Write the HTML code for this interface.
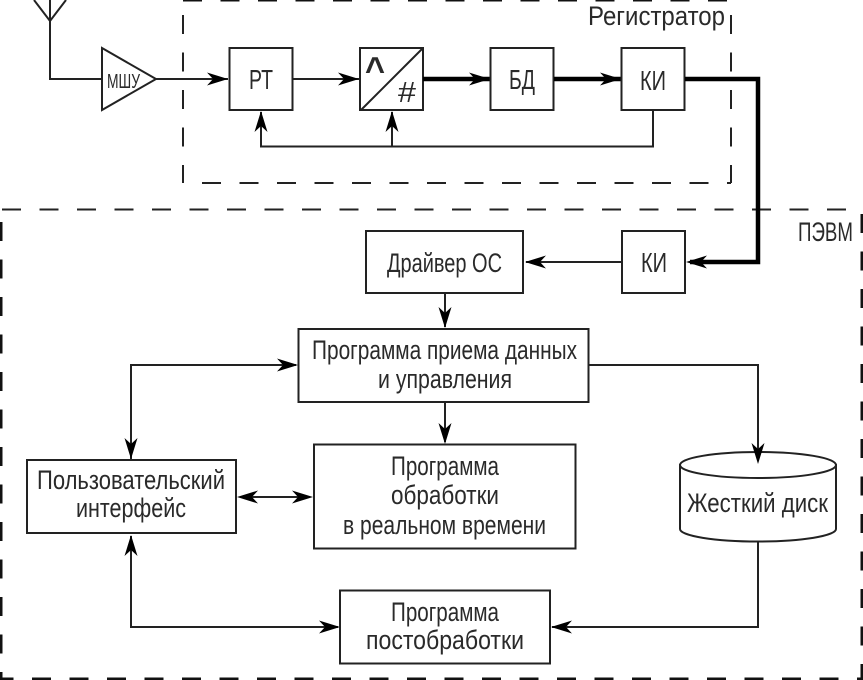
<!DOCTYPE html>
<html><head><meta charset="utf-8"><style>
html,body{margin:0;padding:0;background:#fff}
svg{display:block}
text{font-family:"Liberation Sans","DejaVu Sans",sans-serif;fill:#2a2a2a;font-size:27px;text-anchor:start}
.b{fill:#fff;stroke:#222;stroke-width:2}
.l{fill:none;stroke:#222;stroke-width:2}
.t{fill:none;stroke:#000;stroke-width:4.5}
.d{fill:none;stroke:#222;stroke-width:2;stroke-dasharray:19 18.5}
.dd{fill:none;stroke:#111;stroke-width:3;stroke-dasharray:19 18.5}
</style></head><body>
<svg width="863" height="680" viewBox="0 0 863 680" xmlns="http://www.w3.org/2000/svg">
<defs><path id="a" d="M0 0L-21 -6.500L-15 0L-21 6.500Z" fill="#000"/></defs>

<path class="dd" d="M183 0H731"/>
<path class="d" d="M183 15V183"/>
<path class="d" d="M731 15V183"/>
<path class="d" d="M202 183H731"/>
<path class="d" d="M2 209.5H862"/>
<path class="dd" d="M862 214V680"/>
<path class="dd" d="M-5.5 679H863"/>
<path class="dd" d="M1 222V680"/>

<path class="l" d="M34 0L50 21L66 0M50 0V79H102"/>
<path class="l" d="M102 48L156 79L102 110Z"/>
<path class="l" d="M156 79H228"/>
<use href="#a" transform="translate(228,79)"/>
<rect class="b" x="229.5" y="48" width="63" height="62"/>
<path class="l" d="M293 79H359"/>
<use href="#a" transform="translate(359,79)"/>
<rect class="b" x="360" y="48" width="63" height="62"/>
<path class="l" d="M361 110L423 48"/>
<path class="t" d="M423 79H490"/>
<use href="#a" transform="translate(490,79)"/>
<rect class="b" x="490.5" y="48" width="63" height="62"/>
<path class="t" d="M554 79H621"/>
<use href="#a" transform="translate(621,79)"/>
<rect class="b" x="621.5" y="48" width="63" height="62"/>
<path class="t" d="M685 79H758V262H690"/>
<use href="#a" transform="translate(686,262) rotate(180)"/>
<path class="l" d="M653 110V146.500H261V112"/>
<use href="#a" transform="translate(261,111) rotate(-90)"/>
<path class="l" d="M392 146V112"/>
<use href="#a" transform="translate(392,111) rotate(-90)"/>

<rect class="b" x="622" y="231" width="63" height="62"/>
<path class="l" d="M622 262H526"/>
<use href="#a" transform="translate(525,262) rotate(180)"/>
<rect class="b" x="366" y="231" width="157" height="62"/>
<path class="l" d="M445 293V327"/>
<use href="#a" transform="translate(445,328) rotate(90)"/>
<rect class="b" x="298.500" y="329" width="290" height="73"/>
<path class="l" d="M445 402V442"/>
<use href="#a" transform="translate(445,444) rotate(90)"/>
<rect class="b" x="314" y="444.500" width="261.500" height="104"/>
<rect class="b" x="27" y="460" width="209" height="73"/>
<path class="l" d="M240 497H310"/>
<use href="#a" transform="translate(237,497) rotate(180)"/>
<use href="#a" transform="translate(313,497)"/>
<path class="l" d="M131 459V365H296"/>
<use href="#a" transform="translate(131,459) rotate(90)"/>
<use href="#a" transform="translate(298,365)"/>
<path class="l" d="M131 536V627H338"/>
<use href="#a" transform="translate(131,535) rotate(-90)"/>
<use href="#a" transform="translate(340,627)"/>
<rect class="b" x="340" y="590.500" width="210" height="73"/>
<path class="l" d="M588 365H758V460"/>
<path class="b" d="M680 465V529A78 12.500 0 0 0 836 529V465Z"/>
<ellipse class="b" cx="758" cy="465" rx="78" ry="13"/>
<use href="#a" transform="translate(758,464) rotate(90)"/>
<path class="l" d="M758 541V627H552"/>
<use href="#a" transform="translate(551,627) rotate(180)"/>

<text x="107" y="88" textLength="33" lengthAdjust="spacingAndGlyphs" style="font-size:20px">МШУ</text>
<text x="249" y="89" textLength="24" lengthAdjust="spacingAndGlyphs" style="font-size:28px">РТ</text>
<text x="365" y="82" textLength="20" lengthAdjust="spacingAndGlyphs" style="font-size:36px;font-weight:bold">^</text>
<text x="398" y="102" textLength="18" lengthAdjust="spacingAndGlyphs" style="font-size:29px">#</text>
<text x="509" y="89" textLength="26" lengthAdjust="spacingAndGlyphs" style="font-size:28px">БД</text>
<text x="640" y="90" textLength="26" lengthAdjust="spacingAndGlyphs" style="font-size:28px">КИ</text>
<text x="641" y="272" textLength="26" lengthAdjust="spacingAndGlyphs" style="font-size:28px">КИ</text>
<text x="588" y="25" textLength="137" lengthAdjust="spacingAndGlyphs">Регистратор</text>
<text x="798" y="241" textLength="55" lengthAdjust="spacingAndGlyphs">ПЭВМ</text>
<text x="387" y="272" textLength="115" lengthAdjust="spacingAndGlyphs">Драйвер ОС</text>
<text x="312" y="359" textLength="265" lengthAdjust="spacingAndGlyphs">Программа приема данных</text>
<text x="378" y="388" textLength="134" lengthAdjust="spacingAndGlyphs">и управления</text>
<text x="391" y="475" textLength="108" lengthAdjust="spacingAndGlyphs">Программа</text>
<text x="391" y="504" textLength="108" lengthAdjust="spacingAndGlyphs">обработки</text>
<text x="343" y="534" textLength="203" lengthAdjust="spacingAndGlyphs">в реальном времени</text>
<text x="37" y="489" textLength="188" lengthAdjust="spacingAndGlyphs">Пользовательский</text>
<text x="76" y="517" textLength="110" lengthAdjust="spacingAndGlyphs">интерфейс</text>
<text x="391" y="621" textLength="108" lengthAdjust="spacingAndGlyphs">Программа</text>
<text x="366" y="649" textLength="158" lengthAdjust="spacingAndGlyphs">постобработки</text>
<text x="687" y="512" textLength="141" lengthAdjust="spacingAndGlyphs">Жесткий диск</text>
</svg>
</body></html>
